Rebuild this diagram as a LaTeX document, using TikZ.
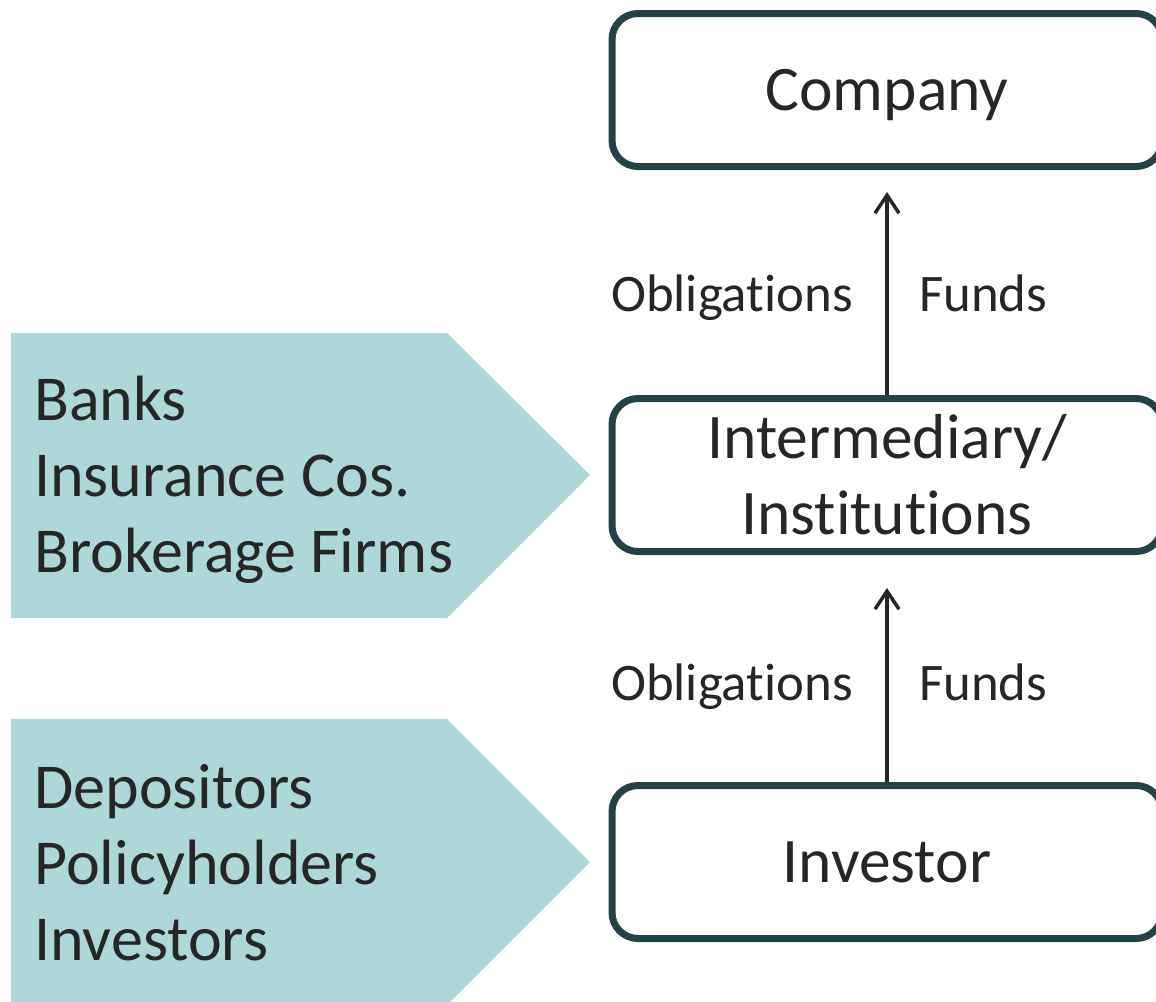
\documentclass[tikz,border=0pt]{standalone}
\usepackage{fontspec}
\setmainfont{Carlito}[Ligatures={NoCommon,NoRare,NoContextual}, Contextuals={NoAlternate}]
\usetikzlibrary{arrows.meta}
\definecolor{boxline}{RGB}{35,66,71}
\definecolor{chev}{RGB}{173,215,216}
\definecolor{txt}{RGB}{38,38,38}
\begin{document}
\begin{tikzpicture}[x=1pt,y=1pt,
  box/.style={draw=boxline, line width=7pt, rounded corners=26pt, minimum width=550pt, minimum height=153pt, inner sep=0pt, font=\fontsize{63.5}{76}\selectfont, text=txt, align=center},
  chevron/.style={fill=chev, draw=none},
  chevtext/.style={anchor=west, inner sep=0pt, align=left, font=\fontsize{64}{76}\selectfont, text=txt},
  lbl/.style={inner sep=0pt, font=\fontsize{52.8}{63}\selectfont, text=txt},
  flow/.style={draw=txt, line width=3.5pt, -{Straight Barb[length=18pt,width=24pt]}}]
\useasboundingbox (0,0) rectangle (1156,-1001);
\clip (0,0) rectangle (1156,-1001);
% chevrons
\fill[chevron] (11,-333) -- (447,-333) -- (590,-475) -- (447,-618) -- (11,-618) -- cycle;
\fill[chevron] (11,-719) -- (447,-719) -- (590,-862) -- (447,-1005) -- (11,-1005) -- cycle;
\node[chevtext] (fin) at (34,-480) {Banks\\Insurance Cos.\\Brokerage Firms};
\node[chevtext] (inv) at (34,-863) {Depositors\\Policyholders\\Investors};
% boxes
\node[box, text depth=0pt] (company) at (887,-90) {Company};
\node[box] (inter) at (887,-475) {Intermediary/\\Institut\kern0pt ions};
\node[box] (investor) at (887,-862) {Investor};
% arrows
\draw[flow, shorten >=22pt] (inter.north) -- (company.south);
\draw[flow, shorten >=33pt] (investor.north) -- (inter.south);
% labels
\node[lbl, anchor=base east] (ob1) at (853,-311) {Obligat\kern0pt ions};
\node[lbl, anchor=base west] (fu1) at (919,-311) {Funds};
\node[lbl, anchor=base east] (ob2) at (853,-700) {Obligat\kern0pt ions};
\node[lbl, anchor=base west] (fu2) at (919,-700) {Funds};
\end{tikzpicture}
\end{document}
